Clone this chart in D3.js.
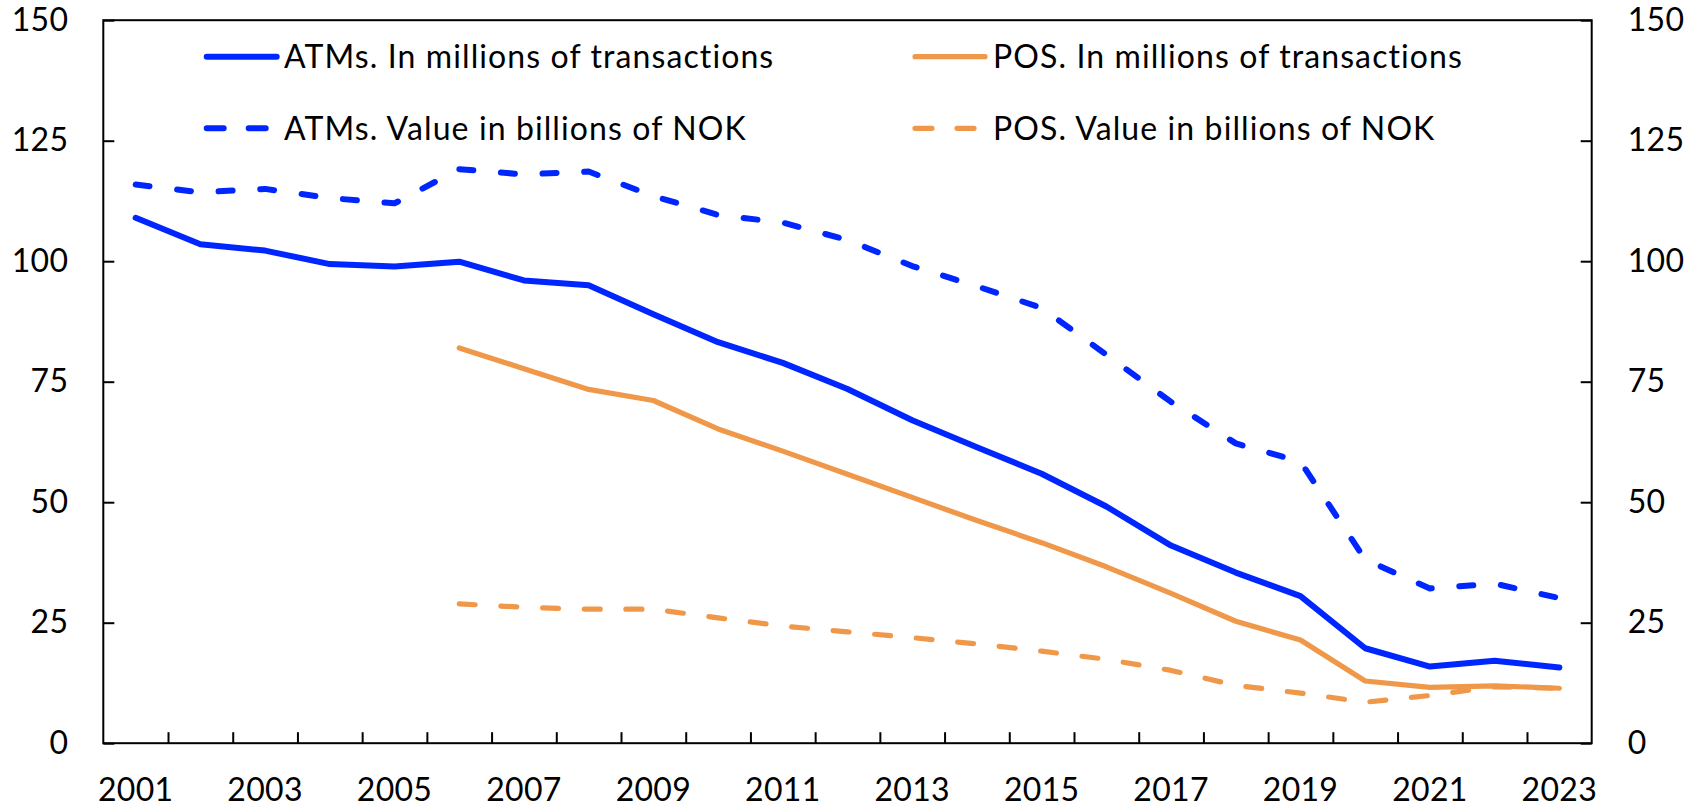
<!DOCTYPE html>
<html>
<head>
<meta charset="utf-8">
<script src="https://cdn.jsdelivr.net/npm/d3@7"></script>
<style>
  body { margin: 0; background: #fff; }
  svg { display: block; font-family: Lato, "Open Sans", sans-serif; }
</style>
</head>
<body>
<div id="plot"></div>
<script>
// data
const years = d3.range(2001, 2024);
const atmTrans = [109.0, 103.5, 102.2, 99.4, 98.9, 99.9, 96.0, 95.0, 89.0, 83.2, 78.9, 73.5, 67.0, 61.4, 55.9, 49.1, 41.0, 35.4, 30.5, 19.7, 15.9, 17.1, 15.7];
const atmValue = [115.9, 114.3, 115.0, 113.1, 112.0, 119.1, 118.0, 118.6, 113.5, 109.6, 108.0, 104.4, 99.0, 94.8, 90.3, 80.6, 70.8, 62.2, 58.4, 38.1, 32.1, 33.1, 30.1];
const posTrans = [null, null, null, null, null, 82.0, 77.7, 73.4, 71.1, 65.2, 60.6, 55.8, 51.0, 46.2, 41.6, 36.6, 31.1, 25.3, 21.4, 12.9, 11.6, 11.9, 11.4];
const posValue = [null, null, null, null, null, 28.9, 28.2, 27.8, 27.8, 26.0, 24.3, 23.1, 21.9, 20.6, 19.1, 17.4, 15.1, 12.0, 10.4, 8.5, 9.9, 11.7, 11.4];
const yTicks = [0, 25, 50, 75, 100, 125, 150];

const seriesNames = ["ATMs. In millions of transactions", "ATMs. Value in billions of NOK",
                     "POS. In millions of transactions", "POS. Value in billions of NOK"];

const blue = "#0026ff", orange = "#f0984a";
const series = [
  {name: seriesNames[0], values: atmTrans, color: blue, width: 6, dash: null},
  {name: seriesNames[1], values: atmValue, color: blue, width: 6, dash: "14,27.7"},
  {name: seriesNames[2], values: posTrans, color: orange, width: 5.2, dash: null},
  {name: seriesNames[3], values: posValue, color: orange, width: 5.2, dash: "16,25.7"}
];

const svgWidth = 1700, svgHeight = 807;
const plot = {left: 103.3, right: 1591.7, top: 20.2, bottom: 743.2};
const fontSize = 32;

var svg = d3.select("#plot").append("svg")
  .attr("width", svgWidth).attr("height", svgHeight);

var x = d3.scaleBand().domain(years).range([plot.left, plot.right]).padding(0);
var xEdge = d3.scaleLinear().domain([0, years.length]).range([plot.left, plot.right]);
var y = d3.scaleLinear().domain([0, 150]).range([plot.bottom, plot.top]);

// frame
svg.append("rect")
  .attr("x", plot.left).attr("y", plot.top)
  .attr("width", plot.right - plot.left).attr("height", plot.bottom - plot.top)
  .attr("fill", "none").attr("stroke", "#000").attr("stroke-width", 2);

// category boundary ticks (inside)
svg.append("g")
  .attr("transform", "translate(0," + plot.bottom + ")")
  .call(d3.axisBottom(xEdge).tickValues(d3.range(1, years.length)).tickSizeInner(-11).tickSizeOuter(0).tickFormat(""))
  .call(g => g.select(".domain").remove())
  .call(g => g.selectAll("line").attr("stroke-width", 2));

// year labels
svg.append("g")
  .attr("transform", "translate(0," + plot.bottom + ")")
  .call(d3.axisBottom(x).tickSize(0).tickValues(years.filter(d => d % 2 === 1)))
  .call(g => g.select(".domain").remove())
  .call(g => g.selectAll("text").attr("y", 47).attr("dy", "0.35em")
    .attr("font-size", fontSize).attr("font-family", "Lato").attr("letter-spacing", 0.3).attr("fill", "#000"));

// left axis
svg.append("g")
  .attr("transform", "translate(" + plot.left + ",0)")
  .call(d3.axisLeft(y).tickValues(yTicks).tickSizeInner(-11).tickSizeOuter(0).tickPadding(35))
  .call(g => g.select(".domain").remove())
  .call(g => g.selectAll("line").attr("stroke-width", 2))
  .call(g => g.selectAll("text").attr("font-size", fontSize).attr("font-family", "Lato").attr("letter-spacing", 0.3).attr("fill", "#000"));

// right axis
svg.append("g")
  .attr("transform", "translate(" + plot.right + ",0)")
  .call(d3.axisRight(y).tickValues(yTicks).tickSizeInner(-11).tickSizeOuter(0).tickPadding(36))
  .call(g => g.select(".domain").remove())
  .call(g => g.selectAll("line").attr("stroke-width", 2))
  .call(g => g.selectAll("text").attr("font-size", fontSize).attr("font-family", "Lato").attr("letter-spacing", 0.3).attr("fill", "#000"));

// lines
var line = d3.line()
  .defined(d => d.v != null)
  .x(d => x(d.year) + x.bandwidth() / 2)
  .y(d => y(d.v));

series.forEach(function(s) {
  var pts = years.map((yr, i) => ({year: yr, v: s.values[i]}));
  svg.append("path")
    .datum(pts)
    .attr("d", line)
    .attr("fill", "none")
    .attr("stroke", s.color)
    .attr("stroke-width", s.width)
    .attr("stroke-linecap", "round")
    .attr("stroke-linejoin", "round")
    .attr("stroke-dasharray", s.dash);
});

// legend: ATMs in left column, POS in right column
var legendPos = [
  {sx: 206.7, tx: 284, ty: 56.7},
  {sx: 206.7, tx: 284, ty: 128.3},
  {sx: 915, tx: 993, ty: 56.7},
  {sx: 915, tx: 993, ty: 128.3}
];

var legend = svg.append("g").attr("class", "legend");
series.forEach(function(s, i) {
  var p = legendPos[i];
  legend.append("line")
    .attr("x1", p.sx).attr("x2", p.sx + 70)
    .attr("y1", p.ty).attr("y2", p.ty)
    .attr("stroke", s.color)
    .attr("stroke-width", s.width)
    .attr("stroke-linecap", "round")
    .attr("stroke-dasharray", s.dash ? "17,25" : null);
  legend.append("text")
    .attr("x", p.tx).attr("y", p.ty)
    .attr("dy", "0.35em")
    .attr("font-size", fontSize)
    .attr("letter-spacing", 1.1)
    .attr("fill", "#000")
    .text(s.name);
});
</script>
</body>
</html>
